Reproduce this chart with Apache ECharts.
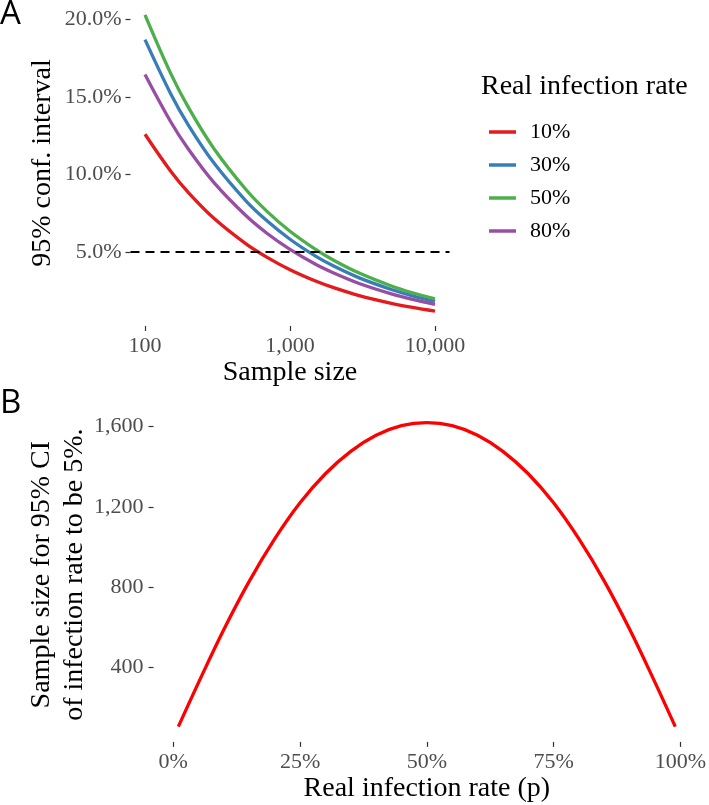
<!DOCTYPE html>
<html><head><meta charset="utf-8">
<script src="https://cdn.jsdelivr.net/npm/echarts@6/dist/echarts.min.js"></script>
<style>html,body{margin:0;padding:0;background:#fff}#c{width:709px;height:805px}</style>
</head><body><div id="c"></div>
<script>
// ---- Panel A data ----
const sampleSizes = [100, 150, 200, 300, 500, 700, 1000, 1500, 2000, 3000, 5000, 7000, 10000];
const ci10 = [12.60, 10.23, 8.82, 7.16, 5.51, 4.64, 3.86, 3.13, 2.70, 2.19, 1.69, 1.42, 1.18];
const ci30 = [18.70, 15.23, 13.16, 10.72, 8.27, 6.98, 5.82, 4.73, 4.09, 3.33, 2.58, 2.17, 1.81];
const ci50 = [20.30, 16.54, 14.30, 11.65, 9.00, 7.59, 6.34, 5.17, 4.47, 3.64, 2.81, 2.37, 1.98];
const ci80 = [16.45, 13.42, 11.61, 9.46, 7.32, 6.18, 5.17, 4.21, 3.65, 2.97, 2.30, 1.94, 1.62];
const rateNames = ['10%', '30%', '50%', '80%'];
const ciTicks = [5, 10, 15, 20];
const sizeTicks = [100, 1000, 10000];
const threshold = 5;
// ---- Panel B data ----
const infectionRate = [1, 5, 10, 15, 20, 25, 30, 35, 40, 45, 50, 55, 60, 65, 70, 75, 80, 85, 90, 95, 99];
const requiredSize = [104, 325, 590, 830, 1040, 1220, 1365, 1477, 1557, 1605, 1620, 1605, 1557, 1477, 1365, 1220, 1040, 830, 590, 325, 104];
const rateTicks = [0, 25, 50, 75, 100];
const requiredTicks = [400, 800, 1200, 1600];

const SERIF = "'Liberation Serif','Times New Roman',serif";
const colors = ['#E41A1C', '#377EB8', '#4DAF4A', '#984EA3'];
const ciSeries = [ci10, ci30, ci50, ci80];

const chart = echarts.init(document.getElementById('c'), null, {renderer: 'canvas'});
const fmtInt = v => Math.round(v).toLocaleString('en-US');

const tickStyle = {show: true, length: 5, lineStyle: {color: '#333333', width: 1.2}};
const labelBase = {color: '#4D4D4D', fontSize: 22, fontFamily: SERIF};
const nameBase = {color: '#000', fontSize: 28, fontFamily: SERIF};

const series = ciSeries.map((arr, i) => ({
  type: 'line', name: rateNames[i], xAxisIndex: 0, yAxisIndex: 0,
  data: sampleSizes.map((n, j) => [n, arr[j]]),
  smooth: 0.35, showSymbol: false, symbol: 'none',
  lineStyle: {color: colors[i], width: 3.3}, itemStyle: {color: colors[i]},
  silent: true, animation: false
}));
series.push({
  type: 'line', name: 'threshold', xAxisIndex: 0, yAxisIndex: 0, data: [],
  silent: true, animation: false,
  markLine: {silent: true, symbol: 'none', label: {show: false},
    lineStyle: {color: '#000', type: [9, 6], width: 1.8},
    data: [{yAxis: threshold}], animation: false}
});
series.push({
  type: 'line', name: 'B', xAxisIndex: 1, yAxisIndex: 1,
  data: infectionRate.map((p, j) => [p, requiredSize[j]]),
  smooth: 0.4, showSymbol: false, symbol: 'none',
  lineStyle: {color: '#FF0000', width: 3.3}, silent: true, animation: false
});

const noLine = {show: false, onZero: false};

const option = {
  backgroundColor: '#fff',
  animation: false,
  grid: [
    {left: 130.5, top: -6, width: 319, height: 332},
    {left: 153.5, top: 407.4, width: 548, height: 334.5}
  ],
  xAxis: [
    {type: 'log', logBase: 10, gridIndex: 0, min: 79.43, max: 12589,
     axisLine: noLine, splitLine: {show: false},
     axisTick: Object.assign({customValues: sizeTicks}, tickStyle),
     axisLabel: Object.assign({customValues: sizeTicks, margin: 9, formatter: fmtInt}, labelBase),
     name: 'Sample size', nameLocation: 'middle', nameGap: 33, nameMoveOverlap: false, nameTextStyle: nameBase},
    {type: 'value', gridIndex: 1, min: -3.9, max: 103.9,
     axisLine: noLine, splitLine: {show: false},
     axisTick: Object.assign({customValues: rateTicks}, tickStyle),
     axisLabel: Object.assign({customValues: rateTicks, margin: 9, formatter: v => Math.round(v) + '%'}, labelBase),
     name: 'Real infection rate (p)', nameLocation: 'middle', nameGap: 33, nameMoveOverlap: false, nameTextStyle: nameBase}
  ],
  yAxis: [
    {type: 'value', gridIndex: 0, min: 0.225, max: 21.26,
     axisLine: noLine, splitLine: {show: false},
     axisTick: Object.assign({customValues: ciTicks}, tickStyle),
     axisLabel: Object.assign({customValues: ciTicks, margin: 9, formatter: v => v.toFixed(1) + '%'}, labelBase),
     name: '95% conf. interval', nameLocation: 'middle', nameGap: 74, nameMoveOverlap: false, nameTextStyle: nameBase},
    {type: 'value', gridIndex: 1, min: 28, max: 1696,
     axisLine: noLine, splitLine: {show: false},
     axisTick: Object.assign({customValues: requiredTicks}, tickStyle),
     axisLabel: Object.assign({customValues: requiredTicks, margin: 10, formatter: fmtInt}, labelBase),
     name: 'Sample size for 95% CI\nof infection rate to be 5%.', nameLocation: 'middle', nameGap: 62, nameMoveOverlap: false,
     nameTextStyle: Object.assign({lineHeight: 33}, nameBase)}
  ],
  legend: {
    data: rateNames, orient: 'vertical', left: 484, top: 116, itemGap: 11,
    icon: 'rect', itemWidth: 27, itemHeight: 3.5, selectedMode: false,
    textStyle: {color: '#000', fontSize: 22, fontFamily: SERIF, lineHeight: 22, padding: [0, 0, 0, 9]}
  },
  graphic: [
    {type: 'text', left: 481, top: 73, style: {text: 'Real infection rate', fill: '#000', font: "28px 'Liberation Serif','Times New Roman',serif"}},
    {type: 'text', left: 0, top: -2, style: {text: 'A', fill: '#000', font: "33px 'Open Sans',sans-serif"}},
    {type: 'text', left: 0, top: 387, style: {text: 'B', fill: '#000', font: "33px 'Open Sans',sans-serif"}}
  ],
  series: series
};
chart.setOption(option);
</script>
</body></html>
